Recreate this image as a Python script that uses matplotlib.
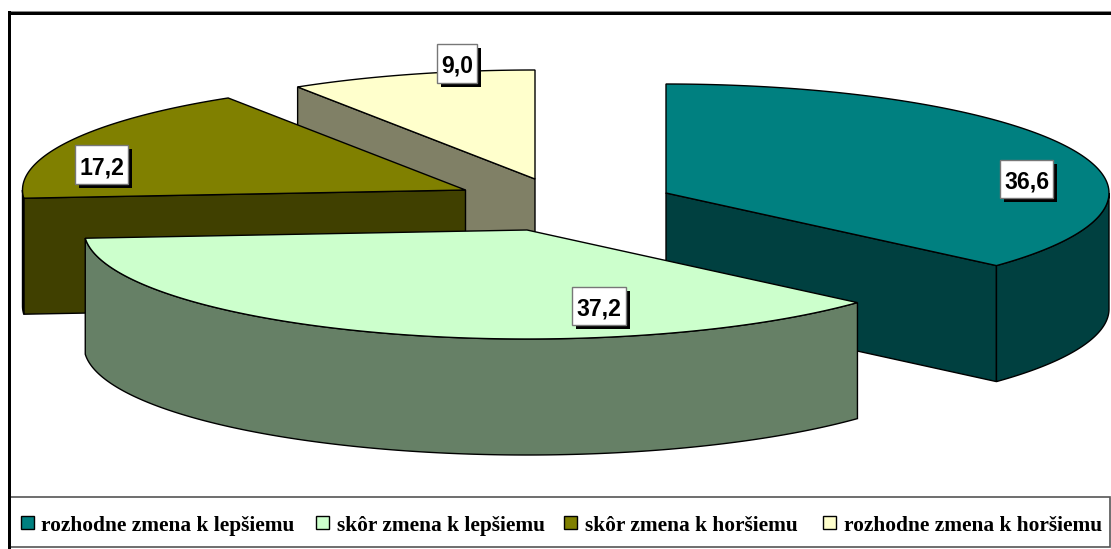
import numpy as np
import matplotlib
matplotlib.use("Agg")
import matplotlib.pyplot as plt
from matplotlib.patches import Polygon, Rectangle

# --- data ---
categories = ["rozhodne zmena k lepšiemu", "skôr zmena k lepšiemu",
              "skôr zmena k horšiemu", "rozhodne zmena k horšiemu"]
values = [36.6, 37.2, 17.2, 9.0]
top_colors = ["#008080", "#CCFFCC", "#808000", "#FFFFCC"]
side_colors = ["#004040", "#668066", "#404000", "#808066"]

# --- layout (pixels) ---
W, H = 1111, 549
centers = [(666, 193), (527, 230), (465.5, 190), (535, 179)]
rx, ry, depth = 443, 109, 116
label_boxes = [(1000, 160, 53, 38), (572, 287, 54, 38), (75, 145, 53, 39), (437, 44, 40, 39)]
legend_swatch_x = [21, 316, 564, 823]
legend_text_x = [41, 337, 585, 844]

fig = plt.figure(figsize=(W / 100, H / 100), dpi=100)
ax = fig.add_axes([0, 0, 1, 1])
ax.set_xlim(0, W)
ax.set_ylim(H, 0)
ax.axis("off")

# frame
ax.add_patch(Rectangle((8, 11), W - 8, H - 11, fc="white", ec="none", zorder=0))
ax.add_patch(Rectangle((8, 10.5), W - 8, 1, fc="#888888", ec="none", zorder=1))
ax.add_patch(Rectangle((8, 11.5), W - 8, 3, fc="black", ec="none", zorder=1))
ax.add_patch(Rectangle((7.5, 11), 3.5, H - 11, fc="black", ec="none", zorder=1))


def pt(c, a, dz=0):
    return (c[0] + rx * np.sin(a), c[1] - ry * np.cos(a) + dz)


total = sum(values)
edges = np.deg2rad(np.cumsum([0] + values) / total * 360)
order = sorted(range(len(values)), key=lambda i: centers[i][1])
z = 2
lw = 1.0
for i in order:
    c = centers[i]
    a0, a1 = edges[i], edges[i + 1]
    mid = (a0 + a1) / 2
    # cut faces that look towards the viewer
    for a in (a0, a1):
        dx, dy = rx * np.sin(a), -ry * np.cos(a)
        if abs(dx) < 1e-6:
            continue
        mx, my = rx * np.sin(mid), -ry * np.cos(mid)
        # interior above the cut line => face visible
        line_y = dy / dx * mx
        if my < line_y:
            p = pt(c, a)
            ax.add_patch(Polygon([c, p, (p[0], p[1] + depth), (c[0], c[1] + depth)],
                                 closed=True, fc=side_colors[i], ec="black", lw=lw, zorder=z))
            z += 1
    # outer rim
    r0, r1 = max(a0, np.pi / 2), min(a1, 3 * np.pi / 2)
    if r1 > r0:
        t = np.linspace(r0, r1, 200)
        upper = [pt(c, x) for x in t]
        lower = [pt(c, x, depth) for x in t[::-1]]
        ax.add_patch(Polygon(upper + lower, closed=True, fc=side_colors[i], ec="black", lw=lw, zorder=z))
        z += 1
    # top surface
    t = np.linspace(a0, a1, 200)
    ax.add_patch(Polygon([c] + [pt(c, x) for x in t], closed=True,
                         fc=top_colors[i], ec="black", lw=lw, zorder=z))
    z += 1

# value labels
for v, (x, y, w, h) in zip(values, label_boxes):
    ax.add_patch(Rectangle((x + 4, y + 4), w, h, fc="black", ec="none", zorder=50))
    ax.add_patch(Rectangle((x, y), w, h, fc="white", ec="#777777", lw=1, zorder=51))
    ax.text(x + w / 2 + 0.3, y + h / 2 + 0.5, f"{v:.1f}".replace(".", ","), ha="center", va="center_baseline",
            family="Liberation Sans", fontweight="bold", fontsize=16.6, color="black", zorder=52)

# legend
ax.add_patch(Rectangle((10, 497), W - 11, 50, fc="white", ec="#555555", lw=1.2, zorder=60))
ax.add_patch(Rectangle((7.5, 490), 3.5, H - 490, fc="black", ec="none", zorder=61))
for sx, tx, col, name in zip(legend_swatch_x, legend_text_x, top_colors, categories):
    ax.add_patch(Rectangle((sx, 516), 13, 13, fc=col, ec="black", lw=1, zorder=62))
    ax.text(tx, 531, name, ha="left", va="baseline", family="Liberation Serif",
            fontweight="bold", fontsize=15.4, color="black", zorder=62)

fig.savefig("out.png", dpi=100)
